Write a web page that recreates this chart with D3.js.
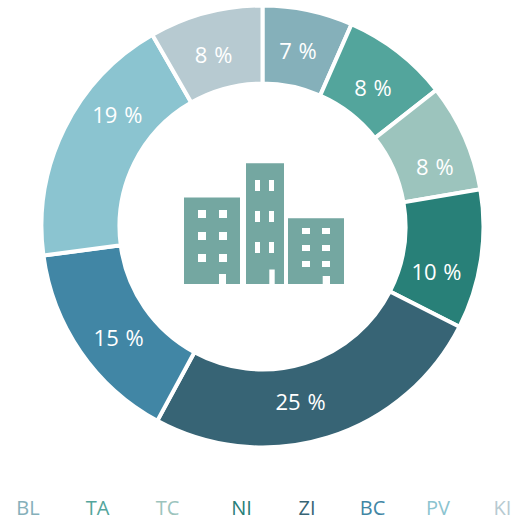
<!DOCTYPE html>
<html>
<head>
<meta charset="utf-8">
<script src="https://cdn.jsdelivr.net/npm/d3@7/dist/d3.min.js"></script>
<style>
    html, body { margin: 0; padding: 0; background: #fff; }
    svg { display: block; }
    text { font-family: "Open Sans", "Noto Sans", sans-serif; }
</style>
</head>
<body>
<div id="chart"></div>
<script>
const CATEGORIES = ["BL", "TA", "TC", "NI", "ZI", "BC", "PV", "KI"];
const SHARES = [6.6, 7.8, 7.9, 10.2, 25.4, 15.0, 18.8, 8.3];
const LABELS = ["7 %", "8 %", "8 %", "10 %", "25 %", "15 %", "19 %", "8 %"];
const COLORS = ["#85b0ba", "#53a59c", "#9cc4bd", "#288078", "#376475", "#4186a5", "#8bc4d0", "#b7cad1"];

const ICON_COLOR = "#74a7a1";

const width = 520;
const height = 521;
const centerX = 262.5;
const centerY = 226.5;
const outerRadius = 221;
const innerRadius = 143;

// the reference does not sit its labels on the slice centroids
const labelNudge = [[-2, 3], [-1, 6], [6, 15], [-6, 18], [-16, 2], [6, 9], [18, -31], [-2, 5]];
// nor are its legend words evenly spread
const legendCenters = [28, 97.5, 167.5, 241.5, 307, 372.5, 438, 502.5];

const svg = d3
    .select("#chart")
    .append("svg")
    .attr("width", width)
    .attr("height", height);

const data = CATEGORIES.map((c, i) => ({ cat: c, share: SHARES[i], label: LABELS[i] }));

const pie = d3
    .pie()
    .sort(null)
    .value(d => d.share);

const arc = d3
    .arc()
    .innerRadius(innerRadius)
    .outerRadius(outerRadius);

const donut = svg
    .append("g")
    .attr("transform", "translate(" + centerX + "," + centerY + ")");

const slices = donut
    .selectAll("g")
    .data(pie(data))
    .join("g");

slices
    .append("path")
    .attr("d", arc)
    .attr("fill", d => COLORS[d.index])
    .attr("stroke", "#fff")
    .attr("stroke-width", 4);

slices
    .append("text")
    .attr("transform", d => {
        const c = arc.centroid(d);
        const n = labelNudge[d.index];
        return "translate(" + (c[0] + n[0]) + "," + (c[1] + n[1]) + ")";
    })
    .attr("text-anchor", "middle")
    .attr("dy", "0.35em")
    .attr("fill", "#fff")
    .attr("font-size", 22)
    .attr("word-spacing", 1)
    .text(d => d.data.label);

// building icon in the middle, drawn in page coordinates
const icon = svg.append("g").attr("fill", ICON_COLOR);

function rectPath(x0, y0, x1, y1) {
    return "M" + x0 + "," + y0 + "H" + x1 + "V" + y1 + "H" + x0 + "Z";
}

function building(x0, y0, x1, y1, winXs, winYs, winW, winH, door) {
    let d = rectPath(x0, y0, x1, y1);
    for (let wy of winYs)
        for (let wx of winXs)
            d += rectPath(wx, wy, wx + winW, wy + winH);
    d += rectPath(door[0], door[1], door[2], y1);
    icon.append("path").attr("fill-rule", "evenodd").attr("d", d);
}

building(184, 197.5, 240, 284, [198, 219], [210, 232, 254], 8, 8, [219, 274, 226]);
building(246, 163.3, 284, 284, [255, 269], [180, 211, 242], 5, 11, [269.3, 269.5, 274.7]);
building(288, 218.3, 344, 284, [302, 322], [228, 245, 261], 8, 6, [322.7, 276, 330]);

svg
    .append("g")
    .selectAll("text")
    .data(CATEGORIES)
    .join("text")
    .attr("x", (d, i) => legendCenters[i])
    .attr("y", 515)
    .attr("text-anchor", "middle")
    .attr("font-size", 20)
    .attr("fill", (d, i) => COLORS[i])
    .text(d => d);
</script>
</body>
</html>
